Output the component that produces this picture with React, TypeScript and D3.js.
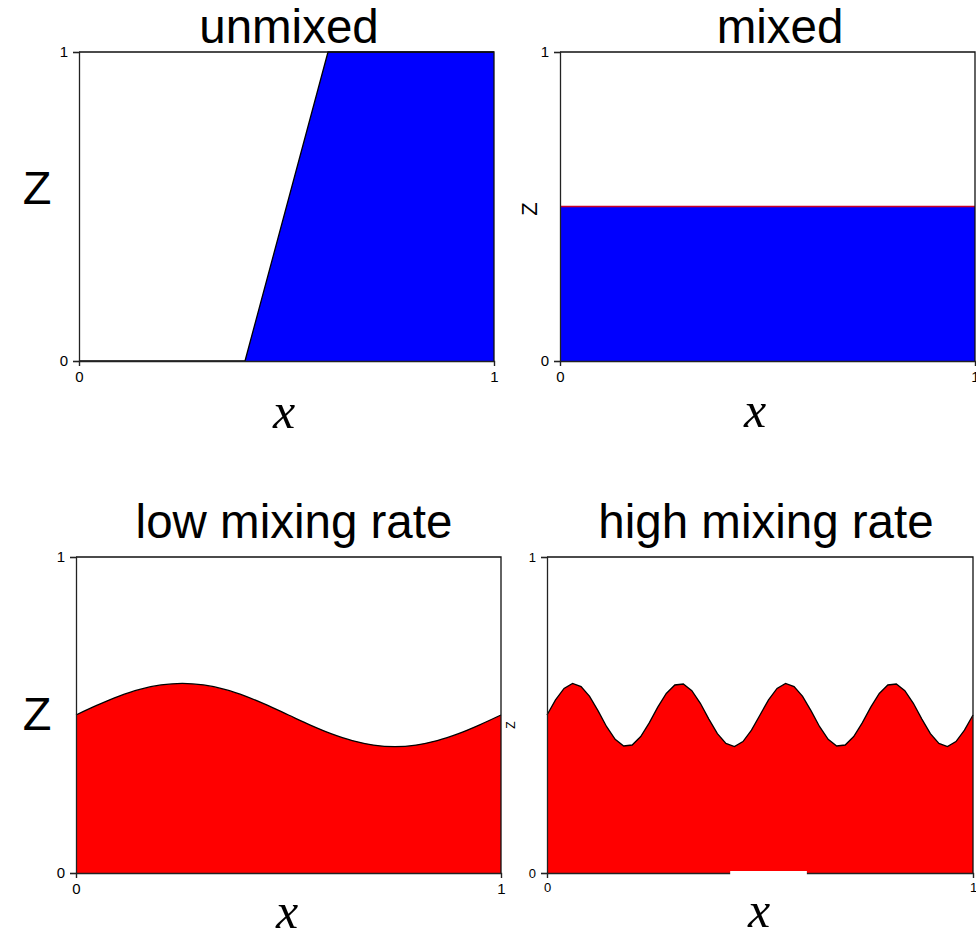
import { useEffect, useRef } from "react";
import * as d3 from "d3";

// ---- data ----
const unmixedX = [0, 0.4, 0.6, 1];
const unmixedZ = [0, 0, 1, 1];

const mixedX = [0, 1];
const mixedZ = [0.5, 0.5];

const lowX = [0, 0.05, 0.1, 0.15, 0.2, 0.25, 0.3, 0.35, 0.4, 0.45, 0.5, 0.55, 0.6, 0.65, 0.7, 0.75, 0.8, 0.85, 0.9, 0.95, 1];
const lowZ = [0.5, 0.531, 0.559, 0.581, 0.595, 0.6, 0.595, 0.581, 0.559, 0.531, 0.5, 0.469, 0.441, 0.419, 0.405, 0.4, 0.405, 0.419, 0.441, 0.469, 0.5];

const highX = [
    0, 0.02, 0.04, 0.06, 0.08, 0.1, 0.12, 0.14, 0.16, 0.18, 0.2, 0.22, 0.24, 0.26, 0.28, 0.3, 0.32, 0.34, 0.36, 0.38, 0.4, 0.42, 0.44, 0.46, 0.48,
    0.5, 0.52, 0.54, 0.56, 0.58, 0.6, 0.62, 0.64, 0.66, 0.68, 0.7, 0.72, 0.74, 0.76, 0.78, 0.8, 0.82, 0.84, 0.86, 0.88, 0.9, 0.92, 0.94, 0.96, 0.98, 1,
];
const highZ = [
    0.5, 0.548, 0.584, 0.6, 0.59, 0.559, 0.513, 0.463, 0.423, 0.402, 0.405, 0.432, 0.475, 0.525, 0.568, 0.595, 0.598, 0.577, 0.537, 0.487, 0.441, 0.41, 0.4, 0.416, 0.452,
    0.5, 0.548, 0.584, 0.6, 0.59, 0.559, 0.513, 0.463, 0.423, 0.402, 0.405, 0.432, 0.475, 0.525, 0.568, 0.595, 0.598, 0.577, 0.537, 0.487, 0.441, 0.41, 0.4, 0.416, 0.452, 0.5,
];

const titles = ["unmixed", "mixed", "low mixing rate", "high mixing rate"];
const tickValues = [0, 1];

type Panel = {
    title: string;
    xs: number[];
    zs: number[];
    fill: string;
    line: string;
    smooth: boolean;
    box: { l: number; r: number; t: number; b: number };
    titleX: number;
    titleY: number;
    zLabel: { x: number; y: number; size: number; rotate: boolean };
    xLabel: { x: number; y: number };
    tickSize: number;
};

const panels: Panel[] = [
    {
        title: titles[0], xs: unmixedX, zs: unmixedZ, fill: "#0000ff", line: "#000000", smooth: false,
        box: { l: 79, r: 494, t: 52, b: 361 }, titleX: 289, titleY: 43,
        zLabel: { x: 37, y: 204, size: 47, rotate: false }, xLabel: { x: 284, y: 428 }, tickSize: 15,
    },
    {
        title: titles[1], xs: mixedX, zs: mixedZ, fill: "#0000ff", line: "#c8002a", smooth: false,
        box: { l: 560, r: 975, t: 52, b: 361 }, titleX: 780, titleY: 43,
        zLabel: { x: 529, y: 209, size: 22, rotate: true }, xLabel: { x: 755, y: 427 }, tickSize: 15,
    },
    {
        title: titles[2], xs: lowX, zs: lowZ, fill: "#ff0000", line: "#000000", smooth: true,
        box: { l: 76, r: 501, t: 557, b: 873 }, titleX: 294, titleY: 538,
        zLabel: { x: 37, y: 730, size: 47, rotate: false }, xLabel: { x: 287, y: 928 }, tickSize: 15,
    },
    {
        title: titles[3], xs: highX, zs: highZ, fill: "#ff0000", line: "#000000", smooth: false,
        box: { l: 547, r: 973, t: 557, b: 873 }, titleX: 766, titleY: 538,
        zLabel: { x: 511, y: 725, size: 12, rotate: true }, xLabel: { x: 759, y: 927 }, tickSize: 13,
    },
];

const sans = "'Liberation Sans', Arial, sans-serif";
const serif = "'Liberation Serif', 'Times New Roman', serif";

export default function App() {
    const ref = useRef<SVGSVGElement | null>(null);

    useEffect(() => {
        const svg = d3.select(ref.current);
        svg.selectAll("*").remove();

        panels.forEach((p) => {
            const g = svg.append("g");
            const x = d3.scaleLinear().domain([0, 1]).range([p.box.l, p.box.r]);
            const y = d3.scaleLinear().domain([0, 1]).range([p.box.b, p.box.t]);
            const pts = p.xs.map((v, i) => [v, p.zs[i]] as [number, number]);
            const curve = p.smooth ? d3.curveMonotoneX : d3.curveLinear;

            // filled region under the interface
            const area = d3
                .area<[number, number]>()
                .x((d) => x(d[0]))
                .y0(y(0))
                .y1((d) => y(d[1]))
                .curve(curve);
            g.append("path").datum(pts).attr("d", area).attr("fill", p.fill);

            const line = d3
                .line<[number, number]>()
                .x((d) => x(d[0]))
                .y((d) => y(d[1]))
                .curve(curve);
            g.append("path")
                .datum(pts)
                .attr("d", line)
                .attr("fill", "none")
                .attr("stroke", p.line)
                .attr("stroke-width", 1.3);

            // frame (top and right sides)
            g.append("path")
                .attr("d", `M${x(0)},${y(1)}H${x(1)}V${y(0)}`)
                .attr("fill", "none")
                .attr("stroke", "#111")
                .attr("stroke-width", 1.3);

            // axes
            const yAxis = g
                .append("g")
                .attr("transform", `translate(${x(0)},0)`)
                .call(d3.axisLeft(y).tickValues(tickValues).tickFormat(d3.format("d")).tickSize(6).tickPadding(5));
            const xAxis = g
                .append("g")
                .attr("transform", `translate(0,${y(0)})`)
                .call(d3.axisBottom(x).tickValues(tickValues).tickFormat(d3.format("d")).tickSize(5).tickPadding(5));
            [yAxis, xAxis].forEach((a) => {
                a.attr("font-size", null).attr("font-family", null);
                a.select(".domain").attr("stroke", "#222").attr("stroke-width", 1.3);
                a.selectAll(".tick line").attr("stroke", "#222").attr("stroke-width", 1.1);
                a.selectAll(".tick text")
                    .style("font-family", sans)
                    .style("font-size", `${p.tickSize}px`)
                    .attr("fill", "#000");
            });

            // title
            g.append("text")
                .attr("x", p.titleX)
                .attr("y", p.titleY)
                .attr("text-anchor", "middle")
                .attr("font-family", sans)
                .attr("font-size", 47.5)
                .text(p.title);

            // z label
            const zl = p.zLabel;
            if (zl.rotate) {
                g.append("text")
                    .attr("transform", `translate(${zl.x},${zl.y}) rotate(-90)`)
                    .attr("text-anchor", "middle")
                    .attr("dominant-baseline", "central")
                    .attr("font-family", sans)
                    .attr("font-size", zl.size)
                    .text("Z");
            } else {
                g.append("text")
                    .attr("x", zl.x)
                    .attr("y", zl.y)
                    .attr("text-anchor", "middle")
                    .attr("font-family", sans)
                    .attr("font-size", zl.size)
                    .text("Z");
            }

            // x label
            g.append("text")
                .attr("x", p.xLabel.x)
                .attr("y", p.xLabel.y)
                .attr("text-anchor", "middle")
                .attr("font-family", serif)
                .attr("font-style", "italic")
                .attr("font-size", 50)
                .text("x");
        });

        // small white patch over the lower-right axis line
        const br = panels[3].box;
        const xb = d3.scaleLinear().domain([0, 1]).range([br.l, br.r]);
        svg.append("rect")
            .attr("x", xb(0.43))
            .attr("y", br.b - 2)
            .attr("width", xb(0.61) - xb(0.43))
            .attr("height", 4)
            .attr("fill", "#fff");
    }, []);

    return (
        <svg
            ref={ref}
            width={976}
            height={934}
            style={{ position: "absolute", left: 0, top: 0, background: "#fff" }}
        />
    );
}
